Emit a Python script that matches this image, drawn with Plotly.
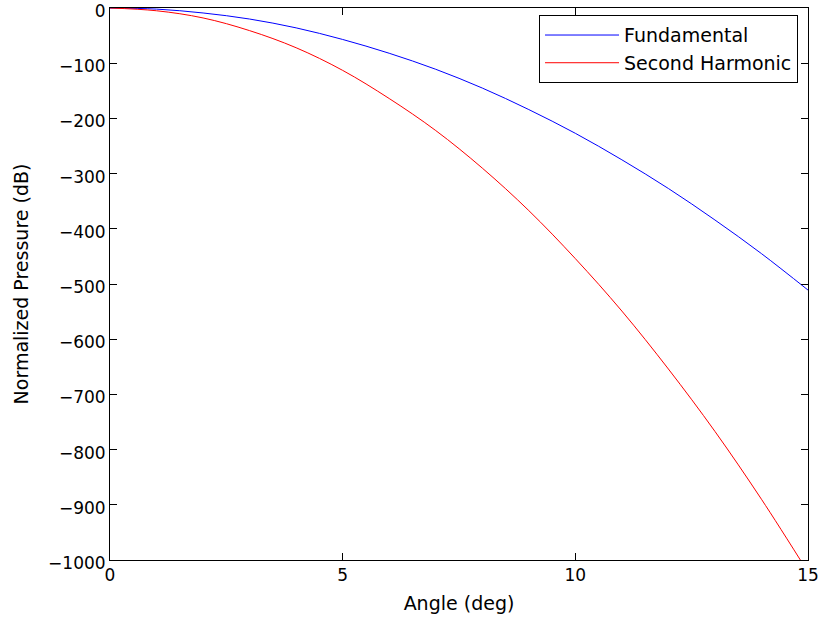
import plotly.graph_objects as go

# Beam profile, normalized pressure vs. angle
angle_deg = [0, 1, 2, 3, 4, 5, 6, 7, 8, 9, 10, 11, 12, 13, 14, 15]
fundamental_db = [0, -2, -9, -20, -36, -57, -82, -111, -145, -184, -227,
                  -275, -327, -384, -445, -511]
second_harmonic_db = [0, -5, -18, -41, -72, -113, -164, -222, -290, -367,
                      -454, -549, -654, -767, -890, -1022]

x_ticks = [0, 5, 10, 15]
y_ticks = list(range(-1000, 1, 100))
y_tick_text = [str(v).replace("-", "\u2212") for v in y_ticks]

FONT = "DejaVu Sans"

fig = go.Figure()
fig.add_trace(go.Scatter(
    x=angle_deg, y=fundamental_db, mode="lines", name="Fundamental",
    line=dict(color="rgb(0,0,255)", width=1, shape="spline"),
))
fig.add_trace(go.Scatter(
    x=angle_deg, y=second_harmonic_db, mode="lines", name="Second Harmonic",
    line=dict(color="rgb(255,0,0)", width=1, shape="spline"),
))

axis_common = dict(
    showgrid=False, zeroline=False, showline=True, linecolor="black",
    linewidth=1, mirror="ticks", ticks="inside", ticklen=7, tickwidth=1,
    tickcolor="black", ticklabeloverflow="allow", automargin=False,
    tickfont=dict(family=FONT, size=17, color="black"),
)

fig.update_xaxes(
    range=[0, 15], tickvals=x_ticks, ticktext=[str(v) for v in x_ticks],
    title=dict(text="Angle (deg)", font=dict(family=FONT, size=19, color="black"),
               standoff=12),
    **axis_common,
)
fig.update_yaxes(
    range=[-1000, 0], tickvals=y_ticks, ticktext=y_tick_text,
    ticklabelshift=3,
    title=dict(text="Normalized Pressure (dB)",
               font=dict(family=FONT, size=19, color="black"), standoff=14),
    **axis_common,
)

fig.update_layout(
    width=822, height=623,
    margin=dict(l=110, r=14, t=8, b=63),
    paper_bgcolor="white", plot_bgcolor="white",
    font=dict(family=FONT, color="black"),
    showlegend=True,
    legend=dict(
        x=0.9857, y=0.987, xanchor="right", yanchor="top",
        bgcolor="white", bordercolor="black", borderwidth=1,
        font=dict(family=FONT, size=19, color="black"),
        tracegroupgap=0, itemwidth=74,
    ),
)

fig.write_html("out.html")
